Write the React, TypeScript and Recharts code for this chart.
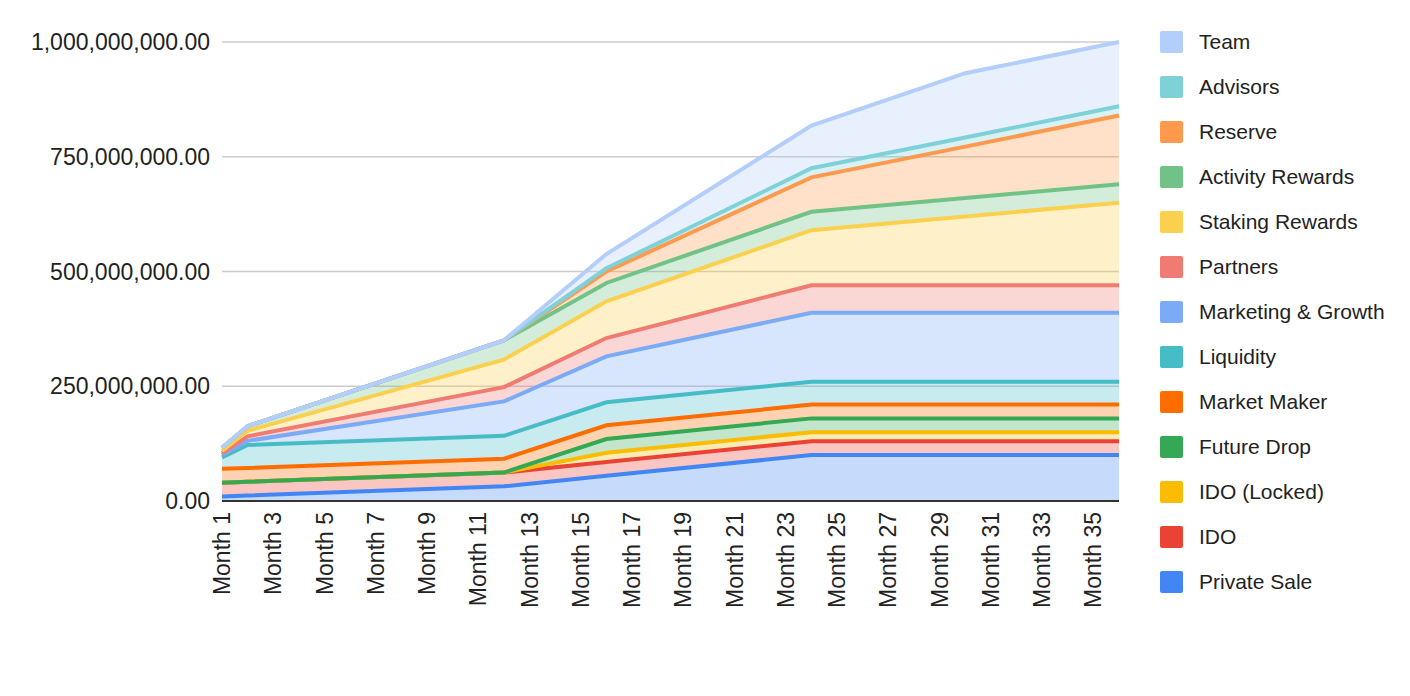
import { Area, AreaChart, CartesianGrid, XAxis, YAxis } from 'recharts'

const M = 1_000_000
const FONT = 'Arial, "Liberation Sans", sans-serif'

// vesting breakpoints (month numbers); values in millions of tokens
const months = [1, 2, 12, 16, 24, 30, 36]
const monthTicks = [1, 3, 5, 7, 9, 11, 13, 15, 17, 19, 21, 23, 25, 27, 29, 31, 33, 35]
const yTicks = [0, 250 * M, 500 * M, 750 * M, 1000 * M]

const privateSale = [10, 12, 32, 55, 100, 100, 100]
const ido = [30, 30, 30, 30, 30, 30, 30]
const idoLocked = [0, 0, 0, 20, 20, 20, 20]
const futureDrop = [0, 0, 0, 30, 30, 30, 30]
const marketMaker = [30, 30, 30, 30, 30, 30, 30]
const liquidity = [25, 50, 50, 50, 50, 50, 50]
const marketing = [5, 9, 75, 100, 150, 150, 150]
const partners = [4, 10, 31, 40, 60, 60, 60]
const staking = [5, 12, 60, 80, 120, 150, 180]
const activity = [7, 10, 42, 40, 40, 40, 40]
const reserve = [0, 0, 0, 25, 75, 112, 150]
const advisors = [0, 0, 0, 7, 20, 20, 20]
const team = [0, 0, 0, 31, 93, 140, 140]

// bottom of the stack first
const series = [
  { key: 'privateSale', name: 'Private Sale', color: '#4285F4', values: privateSale },
  { key: 'ido', name: 'IDO', color: '#EA4335', values: ido },
  { key: 'idoLocked', name: 'IDO (Locked)', color: '#FBBC04', values: idoLocked },
  { key: 'futureDrop', name: 'Future Drop', color: '#34A853', values: futureDrop },
  { key: 'marketMaker', name: 'Market Maker', color: '#FF6D01', values: marketMaker },
  { key: 'liquidity', name: 'Liquidity', color: '#46BDC6', values: liquidity },
  { key: 'marketing', name: 'Marketing & Growth', color: '#7BAAF7', values: marketing },
  { key: 'partners', name: 'Partners', color: '#F07B72', values: partners },
  { key: 'staking', name: 'Staking Rewards', color: '#FCD04F', values: staking },
  { key: 'activity', name: 'Activity Rewards', color: '#71C287', values: activity },
  { key: 'reserve', name: 'Reserve', color: '#FF994D', values: reserve },
  { key: 'advisors', name: 'Advisors', color: '#7ED1D7', values: advisors },
  { key: 'team', name: 'Team', color: '#B3CEFB', values: team },
]

const data = months.map((month, i) => {
  const row: Record<string, number> = { month }
  series.forEach((s) => {
    row[s.key] = s.values[i] * M
  })
  return row
})

const fmt = (v: number) =>
  v.toLocaleString('en-US', { minimumFractionDigits: 2, maximumFractionDigits: 2 })

function MonthTick({ x, y, payload }: any) {
  return (
    <text
      x={x}
      y={y}
      transform={`rotate(-90, ${x}, ${y})`}
      textAnchor="end"
      dy="0.35em"
      fontSize={23}
      fill="#222"
      fontFamily={FONT}
    >
      {`Month ${payload.value}`}
    </text>
  )
}

export default function App() {
  return (
    <div style={{ position: 'relative', width: 1400, height: 680, fontFamily: FONT }}>
      <AreaChart
        width={1400}
        height={680}
        data={data}
        margin={{ top: 34, right: 289, bottom: 77, left: 0 }}
      >
        <CartesianGrid vertical={false} stroke="#ccc" strokeWidth={1.5} />
        <XAxis
          dataKey="month"
          type="number"
          domain={[1, 36]}
          ticks={monthTicks}
          interval={0}
          height={110}
          tickLine={false}
          tickSize={0}
          tickMargin={11}
          axisLine={{ stroke: '#333', strokeWidth: 2 }}
          tick={<MonthTick />}
        />
        <YAxis
          type="number"
          domain={[0, 1000 * M]}
          ticks={yTicks}
          interval={0}
          width={214}
          tickLine={false}
          axisLine={false}
          tickSize={0}
          tickMargin={12}
          tickFormatter={fmt}
          tick={{ fontSize: 23, fill: '#222', fontFamily: FONT }}
        />
        {/* fills first, then the lines on top of every fill */}
        {series.map((s) => (
          <Area
            key={`${s.key}-fill`}
            type="linear"
            dataKey={s.key}
            name={s.name}
            stackId="fill"
            stroke="none"
            fill={s.color}
            fillOpacity={0.3}
            dot={false}
            activeDot={false}
            isAnimationActive={false}
          />
        ))}
        {series.map((s) => (
          <Area
            key={`${s.key}-line`}
            type="linear"
            dataKey={s.key}
            name={s.name}
            stackId="line"
            stroke={s.color}
            strokeWidth={4}
            fill="none"
            dot={false}
            activeDot={false}
            isAnimationActive={false}
          />
        ))}
      </AreaChart>
      <div style={{ position: 'absolute', left: 1152, top: 11.5 }}>
        {[...series].reverse().map((s) => (
          <div key={s.key} style={{ display: 'flex', alignItems: 'center', height: 45 }}>
            <div
              style={{ width: 23, height: 22, background: s.color, borderRadius: 2, marginRight: 16 }}
            />
            <span style={{ fontSize: 21, color: '#222', whiteSpace: 'nowrap' }}>{s.name}</span>
          </div>
        ))}
      </div>
    </div>
  )
}
